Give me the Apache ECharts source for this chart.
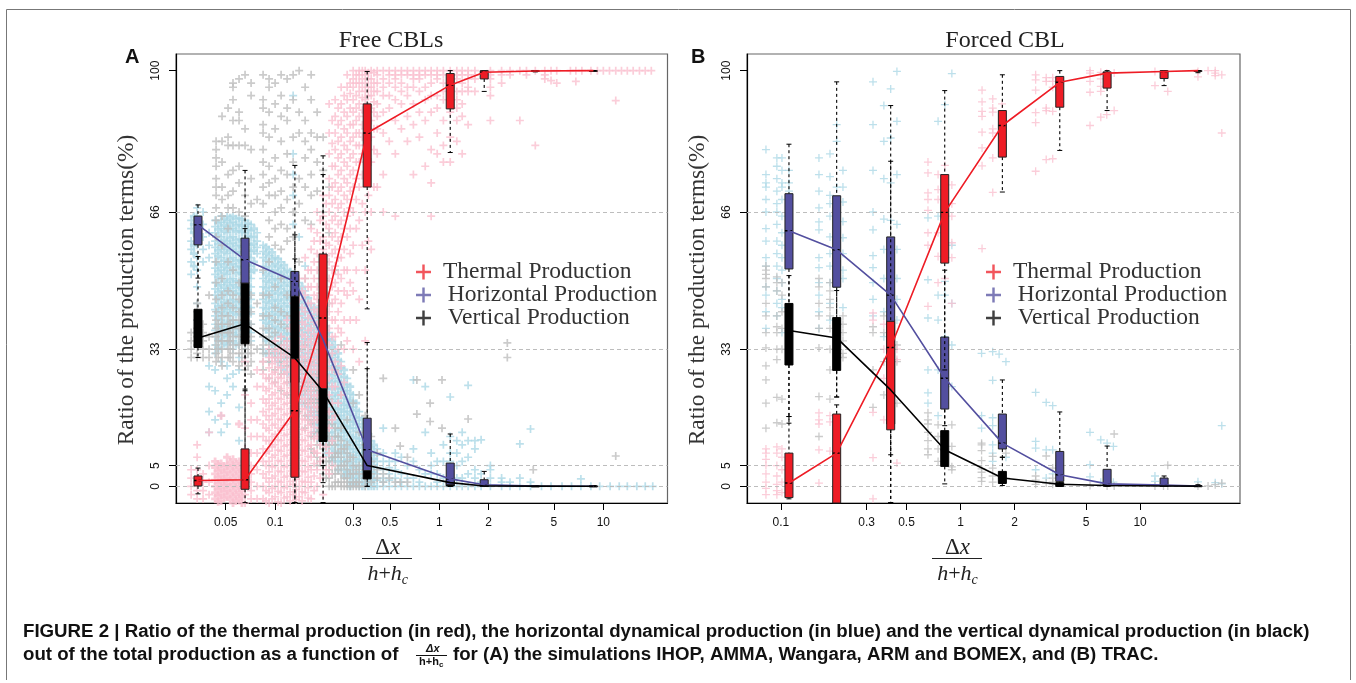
<!DOCTYPE html>
<html><head><meta charset="utf-8">
<style>html,body{margin:0;padding:0;background:#fff}#c{width:1356px;height:683px}</style>
<script src="https://cdn.jsdelivr.net/npm/echarts@6/dist/echarts.min.js"></script>
</head><body><div id="c"></div>
<script>
// ---------- axes ----------
const yTicks = [0, 5, 33, 66, 100];
const refLines = [0, 5, 33, 66];
const xTicksA = [0.05, 0.1, 0.3, 0.5, 1, 2, 5, 10];
const xTicksB = [0.1, 0.3, 0.5, 1, 2, 5, 10];
const names = ['Thermal Production', 'Horizontal Production', 'Vertical Production'];

// ---------- panel A boxes: [x, low, q1, median, q3, high] ----------
const redBoxA = [[.0339,-1.8,.1,1.4,2.5,4.4],[.0656,-3.9,-.7,1.6,9,23.4],[.132,-3.9,2.2,18.2,30.7,60.5],[.196,-3.9,23.5,40.5,55.9,79.5],[.364,42.7,72,85,92,99.8],[1.167,80.3,90.8,96.5,99.3,100],[1.88,95,98,99.6,100,100],[3.85,99.7,99.8,99.9,100,100],[8.69,99.8,99.9,100,100,100]];
const blueBoxA = [[.0339,50.1,58.1,62.9,65,67.7],[.0656,23,48.9,54.5,59.7,76],[.132,20,45.7,49.3,51.7,77.2],[.196,5,25,35.3,45,75],[.364,0,3.8,8.8,16.4,34.6],[1.167,0,.4,1.8,5.6,12.6],[1.88,0,0,.4,1.6,3.6],[3.85,0,0,.05,.1,.2],[8.69,0,0,.03,.1,.2]];
const blackBoxA = [[.0339,31,33.4,35.7,42.6,55.3],[.0656,8,34.3,39.1,49,62],[.132,-3.9,25,30.9,47,54.7],[.196,.9,10.8,22.8,25,55],[.364,0,1.8,5,7,28.3],[1.167,0,.1,.9,1.6,3],[1.88,0,0,.1,.2,.5],[3.85,0,0,.05,.1,.2],[8.69,0,0,.03,.1,.2]];

// ---------- panel B boxes ----------
const redBoxB = [[.1108,-3,-2.7,.8,8,16.8],[.2043,-4,-4,8,17.4,19.6],[.4084,-3.9,13.6,33.4,39.7,78.2],[.8166,28,53.7,65.9,75,95.2],[1.71,70.8,79.2,86.8,90.4,99],[3.57,80.8,91.2,97.2,98.6,100],[6.55,90.4,95.8,99.4,99.7,100],[13.6,96.4,98.1,99.8,100,100],[21,99.5,99.8,100,100,100]];
const blueBoxB = [[.1108,16.8,52.3,61.5,70.4,82.3],[.2043,21.5,47.9,56.9,69.9,97.3],[.4084,7.6,30,46,60,91.6],[.8166,14.6,18.6,26,35.9,52],[1.71,7,9,10.4,17.4,25.6],[3.57,0,1.2,2.8,8.4,17.9],[6.55,0,.1,.6,4.1,9.7],[13.6,0,0,.3,2,2.5],[21,0,0,.05,.1,.2]];
const blackBoxB = [[.1108,15.2,29.2,37.5,44,50.7],[.2043,21.5,27.9,35.7,40.6,47.1],[.4084,-3.9,15,23.2,30,45],[.8166,.6,4.8,8.8,13.4,30],[1.71,.2,.7,2,3.6,7],[3.57,0,0,.5,.9,2],[6.55,0,.1,.2,.4,.8],[13.6,0,0,.1,.2,.4],[21,0,0,.05,.2,.4]];

// ---------- panel A point clouds: one x per column, one list of y per column ----------
const blueAX = [.0308,.0335,.0364,.0396,.0431,.0469,.051,.0554,.0603,.0656,.0714,.0777,.0845,.0919,.1,.1088,.1184,.1288,.1401,.1524,.1658,.1804,.1963,.2135,.2323,.2527,.2749,.2991,.3254,.354,.385,.419,.456,.496,.54,.588,.64,.696,.757,.822,.893,.972,1.06,1.167,1.28,1.38,1.5,1.65,1.8,2.05,2.4,2.7,3.1,3.6,4.2,4.8,5.6,6.4,7.3,8.4,9.5,11,12.5,14,16,18,20];
const blueAY = [
[64,62,59,57,54,51],[67,65,63,60,58,55,52,48,44,40,37],[66,63,60,57,54],[61,58,55,29,24,18,13],
[64,62.5,61,59,57.5,56,54,52.5,51,49,47.5,46,44,42.5,41,39,37.5,36,34,32,28,23,16],
[65,63.5,62,60,58.5,57,55,53.5,52,50,48.5,47,45,43.5,42,40,38.5,37,35,33,30,20,17,13],
[65,64,62.5,61,59,57.5,56,54,52.5,51,49,47.5,46,44,42.5,41,39,37.5,36,34,29,26,22,15],
[65,63.5,62,60,58.5,57,55,53.5,52,50,48.5,47,45,43.5,42,40,38.5,37,35,33,27,24],
[64.5,63,61.5,59.5,58,56.5,54.5,53,51.5,49.5,48,46.5,44.5,43,41.5,39.5,38,36.5,34,31,28,19,11],
[64,62.5,61,59,57.5,56,54,52.5,51,49,47.5,46,44,42.5,41,39,36,33,30],
[63,61.5,60,58,56.5,55,53,51.5,50,48,46.5,45,43,41.5,39,37,35],
[61,59,57.5,56],
[58,56.5,55,53,51.5,50,48,46.5,45,43,41.5,40,36,33],
[57,55.5,54,52,50.5,49,47,45.5,44,42,40.5,39,37,35,33,30],
[55,53.5,52,50,48.5,47,45,43.5,42,40,38.5,37,35,33,31],
[54,52.5,51,49,47.5,46,44,42.5,41,39,37.5,36,34,32,29],
[52,50.5,49,47,45.5,44,42,40.5,39,37,35.5,34,32,30,27],
[94,80,75,70,63,51,49.5,48,46,44.5,43,41,39.5,38,36,34.5,33,31,29,27,25],
[60,49,47.5,46,44,42.5,41,39,37.5,36,34,32.5,31,29,27,25,22],
[53,47,45.5,44,42,40.5,39,37,35.5,34,32,30.5,29,27,25.5,24,22,20],
[44,42.5,41,39,37.5,36,34,32.5,31,29,27.5,26,24,22,20,18],
[42,40.5,39,37,35.5,34,32,30.5,29,27,25.5,24,22,20,18,16,14],
[40,38.5,37,35,33.5,32,30,28.5,27,25,23.5,22,20,18,16,14,12],
[37,35.5,34,32,30.5,29,27,25.5,24,22,20.5,19,17,15,13,11.5,10],
[34,32.5,31,29,27.5,26,24,22.5,21,19,17.5,16,14,12,10,8.5,7],
[30,28.5,27,25,23.5,22,20,18.5,17,15,13.5,12,10,8.5,7,6,5],
[26,24.5,23,21,19.5,18,16,14.5,13,11,9.5,8,6.5,5,3.5,3],
[22,20.5,19,17,15.5,14,12,10.5,9,7.5,6,4.5,3,2,1],
[18,16.5,15,13,11.5,10,8,6.5,5,3.5,2,1,0],
[14,12.5,11,9.5,8,6.5,5,3.5,2,1,0],
[11,9.5,8,6.5,5,3.5,2,1,0],[9,7.5,6,4.5,3,1.5,0],[14,8,6,4,2,1,0],[6,4.5,3,1.5,0],[8,6,4,2,0],[7,3,1,0],[5,2,0],[25.6,9,6,2,0],[4,1,0],[24,13,3,0],[8,5,3,0],[6,3,1,0],[10,6,2,0],[21.5,12,8,6,3,0],[11,8,5,2,0],[13,10,6,2,0],[24.3,11,7,3,0],[11,9,4,2,0],[11.2,3,1,0],[5,4,2,0],[2,1,0],[1,0],[10.2,2,0],[13.8,1,0],[0],[0],[0],[0],[1.8,0],[0],[0],[0],[0],[0],[0],[0],[0],[0],[0]];
// denser reading of the solid part of the blue mass
const blueCoreX = [.032,.045,.049,.0532,.0578,.0628,.0684,.0744,.0881,.0959,.1043,.1135,.1235,.1343,.1461,.159,.1729,.1881,.2047,.2227,.2423,.2636,.2867,.312,.34,.37,.40];
const blueCoreY = [
[65,63,61,58,56,53],
[63.3,61.8,60.3,58.3,56.8,55.3,53.3,51.8,50.3,48.3,46.8,45.3,43.3,41.8,40.3,38.3,36.8,35.3,33.3],
[64.3,62.8,61.3,59.3,57.8,56.3,54.3,52.8,51.3,49.3,47.8,46.3,44.3,42.8,41.3,39.3,37.8,36.3,34.3],
[64.6,63.3,61.8,59.8,58.3,56.8,54.8,53.3,51.8,49.8,48.3,46.8,44.8,43.3,41.8,39.8,38.3,36.8,34.8],
[64.4,62.8,61.3,59.3,57.8,56.3,54.3,52.8,51.3,49.3,47.8,46.3,44.3,42.8,41.3,39.3,37.8,36.3,34.3],
[64.2,62.7,61.2,59.2,57.7,56.2,54.2,52.7,51.2,49.2,47.7,46.2,44.2,42.7,41.2,39.2,37.7,35.2],
[63.2,61.7,60.2,58.2,56.7,55.2,53.2,51.7,50.2,48.2,46.7,45.2,43.2,41.7,39.2,37.2],
[62,60,58.3,56.7,54,52],
[57.5,56,54.3,52.7,51,49.3,47.7,46,44.3,42.7,41,39.3,37.7,35,32],
[56.3,54.7,53,51.3,49.7,48,46.3,44.7,43,41.3,39.7,38,36,34,32],
[54.7,53,51.4,49.7,48,46.4,44.7,43,41.4,39.7,38,36.4,34,32,30],
[53.2,51.6,50,48.3,46.6,45,43.3,41.6,40,38.3,36.6,35,33,31,28],
[51.6,50,48.3,46.6,45,43.3,41.6,40,38.3,36.6,35,33,31,29,27,25],
[50,48.3,46.6,45,43.3,41.6,40,38.3,36.6,35,33.3,31.6,30,28,26,24,22],
[48,46.4,44.7,43,41.4,39.7,38,36.4,34.7,33,31.4,29.7,28,26,24,22,20],
[45.3,43.6,42,40.3,38.6,37,35.3,33.6,32,30.3,28.6,27,25,23,21,19,17],
[43,41.3,39.6,38,36.3,34.6,33,31.3,29.6,28,26.3,24.6,23,21,19,17,15,13],
[41,39.3,37.6,36,34.3,32.6,31,29.3,27.6,26,24.3,22.6,21,19,17,15,13,11],
[38.5,36.8,35.2,33.5,31.8,30.2,28.5,26.8,25.2,23.5,21.8,20.2,18,16,14,12,10,8],
[35,33.4,31.7,30,28.4,26.7,25,23.4,21.7,20,18.4,16.7,15,13,11,9,7,6],
[32,30.3,28.6,27,25.3,23.6,22,20.3,18.6,17,15.3,13.6,12,10,8,6,4],
[28,26.3,24.6,23,21.3,19.6,18,16.3,14.6,13,11.3,9.6,8,6,4,2.5],
[24,22.3,20.6,19,17.3,15.6,14,12.3,10.6,9,7.3,5.6,4,2.5,1,0],
[20,18.3,16.6,15,13.3,11.6,10,8.3,6.6,5,3.3,2,.5],
[16,14.3,12.6,11,9.3,7.6,6,4.3,2.6,1,0],
[12.5,10.8,9,7.3,5.6,4,2.4,1,0],
[10,8.3,6.6,5,3.3,1.6,0]];

const greyAX = [.0308,.0335,.0364,.0396,.0437,.0475,.0517,.0554,.0603,.0656,.0714,.0777,.0845,.0919,.1,.1088,.1184,.1288,.1401,.1524,.1658,.1804,.1963,.2135,.2323,.2527,.2749,.2991,.3254,.354,.385,.419,.456,.496,.54,.578,.64,.731,.88,1.04,1.5,2.6,3.74,11.9];
const greyAY = [
[37,35,33,31],[44,42,40,38,36,34,32,31],[39,37,35,33,31],[46,36,33,31],
[83,81,79,77,74,72,70,67,64,60,54,49,45,42,40,38,36,34,32,30],
[89,83,78,72,69,65,58,50,46,43,41,39,37,35,33,31,29],
[91,84,82,75,70,67,62,54,47,44,41,39,37,35,33,31],
[97,96,93,88,82,76,71,67,52,46,43,40,38,36,34,32,30],
[98,90,88,82,77,73,66,49,45,42,40,38,36,34,32,29],
[99,86,82,70,65,47,43,40,37,35,33,31,28],
[97,94,81,74,68,46,42,39,36,34,32,30,27],
[69,44,33],
[99,93,91,87,85,81,78,75,72,68,52,46,41,38,36,34,32,30,28],
[98,96,90,84,77,73,70,64,60,54,46,41,38,36,34,32,30,26],
[97,92,86,79,74,70,66,62,58,48,43,40,37,35,33,31,28,25],
[99,94,89,83,76,71,67,63,57,50,42,39,36,34,32,30,27,23],
[98,91,88,80,75,69,62,59,46,41,38,35,33,31,29,25,22],
[99,93,84,78,72,66,60,50,41,36,33,30,28,26,23,20],
[100,90,85,74,68,54,38,33,30,28,26,24,21,18],
[96,88,83,79,72,64,50,34,30,27,25,23,20,17,14],
[99,93,85,81,75,70,63,30,27,25,23,21,18,15,12,9],
[90,84,78,71,27,25,23,21,19,16,13,10,7,5],
[84,76,66,25,22,20,18,16,14,11,9,7,5,3],
[72,61,44,21,18,16,14,12,10,8,6,4,2,0],
[52,28,17,14,12,10,8,7,5,3,1,0],
[34,22,14,11,9,7,5,3,1,0],
[16,10,8,6,4,2,1,0],
[28,20,7,5,3,1,0],
[22,13,5,3,1,0],
[17,10,4,2,0],[12,6,3,1],[8,4,2],[26,3,1],[2],[14,1],[9.7,1],[7,1],[25.6,17.4],[20,15.6],[25.6,14],[16.2],[31,34.5],[4],[7.3]];
const greyCoreX = [.045,.0532,.0628,.0684,.159,.1729,.1881,.2047,.2227,.2423,.2636,.2867,.312];
const greyCoreY = [[39,37,35,33,31],[39,37,35,33,31],[40,38,36,34,32,30],[38,36,34,32,29],[28,24,20,16],[24,20,16,12,8],[22,18,14,10,6],[18,14,10,6,2],[15,11,7,3,0],[12,8,4,1],[9,5,2,0],[7,3,0],[4,1,0]];

const pinkAX = [.0308,.0335,.0364,.0396,.0656,.0714,.0777,.0845,.0919,.1,.1088,.1184,.1288,.1401,.1524,.1658,.1804,.1963,.2135,.2323,.2527,.2749,.2991,.3254,.354,.385,.419,.456,.496,.54,.588,.64,.696,.757,.822,.893,.972,1.06,1.167,1.28,1.38,1.5,1.65,2.05,2.4,2.7,3.1,3.4,3.85,4.4,4.8,5.2,6.3,6.8,7.4,8.4,9.2,10,10.9,11.9,12.9,14,15.2,16.6,18,19.6];
const pinkAY = [
[4,2,0,-2],[10,7,4,2,1,-1,-3],[3,1,-1,-3],[13,5,1,-2],
[30,22,14,9,6,4,2,0,-2,-4],[20,16,12,8,5,3,1,-1,-3],[28,24,16,12,8,4,0,-3],
[30,27,24,21,18,15,12,9,6,3,0,-3],[33,31,28.5,26,23.5,21,18.5,16,13.5,11,8.5,6,3.5,1,-1.5,-4],[35,32.5,30,27.5,25,22.5,20,17.5,15,12.5,10,7.5,5,2.5,0,-2.5],[36,33,31,28.5,26,23.5,21,18.5,16,13.5,11,8.5,6,3.5,1,-1.5,-4],[40,35,32.5,30,27.5,25,22.5,20,17.5,15,12.5,10,7.5,5,2.5,0,-2.5],
[44,39,36,33,30.5,28,25.5,23,20.5,18,15.5,13,10.5,8,5.5,3,.5,-2],[50,45,41,38,35,32.5,30,27.5,25,22.5,20,17.5,15,12.5,10,7.5,5,2.5,0,-2.5],[55,50,46,42,39,36,33.5,31,28.5,26,23.5,21,18.5,16,13.5,11,8.5,6,3.5,1,-1.5],
[62,57,52,48,44,41,38,35.5,33,30.5,28,25.5,23,20.5,18,15.5,13,10,7,4,1,-3],[66,61,56,52,48,45,42,39,36,33,30.5,28,25,22,19,16,12,8,4,0],[70,65,60,57,54,51,48,45,42,39,36,33,30,27,24,20,16,12,7,-2],
[92,85,80,74,70,66,62,58,54,50,46,42,38,34,30,26,22,18,14,8,3],[93,89,85,81,77,73,69,65,61,57,53,49,45,40,36,30,24,17],[96,92,88,84,80,76,72,68,64,60,55,50,44,37,29,22],[99,96,93,89,85,81,77,73,69,65,60,52,46,35],[100,98,96,93,90,87,84,80,76,72,66,58,47,33],[100,99,97,95,92,89,85,82,78,72,64,45,30],[100,99,97,95,93,90,86,82,74,66,52,35],[100,98,96,94,91,88,84,78,66,57],[100,99,97,95,92,89,86,80,72],[100,98,96,94,90,85,75,66],[100,99,97,94,91,83],[100,99,98,96,93,88,80,65],[100,99,97,95,92,86],[100,99,96,94,89,83],[100,99,98,96,92,87,75],[100,99,98,95,90,84],[100,99,96,93,88,77],[100,99,97,94,90,81,73,65],[100,99,98,94,91,85,80],[100,99,97,95,93,88,82,78],[100,99,98,96,93,90,84,78],[100,99,98,95,93,91,88,83],[100,99,97,95,92,89,80],[100,99,98,96,95,87],[100,99,98,95],[100,99,98,96,94,88],[100,99,97],[100,99],[100,88],[100,99],[100,82],[100,99,98],[100,97.6],[100,97],[100],[100,97.4],[100],[100],[100],[100],[100],[100,92.8],[100],[100],[100],[100],[100],[100]];
// denser reading of the middle of the pink band
const pinkCoreX = [.0881,.0959,.1043,.1135,.1235,.1343,.1461,.159,.1729,.1881,.2047,.2227,.2423,.2636,.2867,.312,.34,.37,.40];
const pinkCoreY = [
[26,23,20,17,14,11,8,5,2,-1,-3.5],[31,29.5,27,24.7,22,19.5,17,14.7,12,9.5,7,4.7,2,-.5,-3],[33,31,28.7,26.2,24,21.2,18.7,16.2,14,11.2,8.7,6.2,3.7,1.2,-1.2,-3.7],[34,31.7,29.5,27,24.7,22.2,19.7,17.2,14.7,12.2,9.7,7.2,4.7,2.2,-.3,-2.8],[38,33.7,31.2,28.7,26.2,23.7,21.2,18.7,16.2,13.7,11.2,8.7,6.2,3.7,1.2,-1.3,-3.5],
[42,37.5,34.5,31.7,29.2,26.7,24.2,21.7,19.2,16.7,14.2,11.7,9.2,6.7,4.2,1.7,-.8,-3.2],[47,43,39.5,36.5,33.7,31.2,28.7,26.2,23.7,21.2,18.7,16.2,13.7,11.2,8.7,6.2,3.7,1.2,-1.3,-3.5],[52,48,44,40.5,37.5,34.7,32.2,29.7,27.2,24.7,22.2,19.7,17.2,14.7,12.2,9.7,7.2,4.7,2.2,-.3,-2.8],
[59,54,50,46,42.5,39.5,36.7,34.2,31.7,29.2,26.7,24.2,21.7,19.2,16.7,14.2,11.5,8.5,5.5,2.5,-1],[64,59,54,50,46.5,43.5,40.5,37.5,34.5,31.7,29.2,26.5,23.5,20.5,17.5,14,10,6,2],[68,63,58.5,55.5,52.5,49.5,46.5,43.5,40.5,37.5,34.5,31.5,28.5,25.5,22,18,14,9.5,4],
[88,82.5,77,72,68,64,60,56,52,48,44,40,36,32,28,24,20,16,11,5],[91,87,83,79,75,71,67,63,59,55,51,47,42,38,33,27,20],[94,90,86,82,78,74,70,66,62,57,52,47,40,33,25],
[97,94.5,91,87,83,79,75,71,67,62,56,49,40],[99,97,94,91,88,85,82,78,74,69,62,52,40],[100,98,96,93.5,90.5,87,84,80,75,68,58],[99.5,98,96,94,91.5,88,84,78,70,59],[99.5,97,95,92.5,90,86,81,72]];
// the solid pink floor below 5 % at the small grid sizes
const pinkFloorX = [.0431,.045,.0469,.049,.051,.0532,.0554,.0578,.0603,.0628];
const pinkFloorY = [[6,4.5,3,1.5,0,-1.5,-3],[5.3,3.8,2.3,.8,-.7,-2.2,-3.7],[17,5.5,4,2.5,1,-.5,-2,-3.5],[4.8,3.3,1.8,.3,-1.2,-2.7],[7,5,3.5,2,.5,-1,-2.5],[5.8,4.3,2.8,1.3,-.2,-1.7,-3.2],[6.5,5,3.5,2,.5,-1,-2.5,-4],[5.5,4,2.5,1,-.5,-2,-3.5],[15,6,4.5,3,1.5,0,-1.5,-3],[5,3.5,2,.5,-1,-2.5,-4]];

// ---------- panel B point clouds ----------
const blueBX = [.0825,.0949,.1013,.1108,.1628,.1875,.2043,.2214,.3255,.3742,.4084,.4424,.6586,.7498,.8181,.8946,1.31,1.51,1.64,1.79,2.62,3,3.26,5.26,6.04,6.55,7.1,12.1,21,26.2,28.5];
const blueBY = [
[81,75,73,72,69,66,62,59,55,53,48,46,42,38],[79,77,74,71,68,66,63,59,56,53,50,47,44,41],[79,76,73,72,69,65,61,58,55,52,49,45,43,37],[76,73,71,68,64,60,57],
[79,75,71,67,63.6,61.7,55,52.6,49,46,42,38],[80,74.5,70,68,65,60,56,53,49,44,40],[87,83,72,66,60,54,48],[76,72,68.4,63.7,59.8,56,52,50,43],
[97.3,87,76,66,61.7,55.5,52.6,49,45,41],[91.6,83,74,64.3,57,50,42,36],[95.6,83.8,73,64,56,50,44,38],[99.8,87.8,75,63,57,50,45,40],
[64.6,49.7,40.5,28,22.5,20],[87.8,65,46,40,28,17],[91.8,65,49.3,46,36,20],[99.3,58,44,34,24],
[32,17,14],[32.4,25.5,16.5,14.6,10,8,6],[31.8,12],[30,7],[22.6,10.8,9.2,4],[20.2,8.8,2],[19.4,8.8,3],[13,5.2,2.3],[11.2,1],[10.4,1],[9.6,1],[2.5,1.2],[1.1],[.9],[14.6,.6]];
const greyBX = [.0825,.0949,.1013,.1628,.1875,.2214,.3255,.3742,.4424,.6586,.7498,.8946,1.31,1.51,1.79,2.62,3,3.26,5.26,6.55,7.17,12.1,13.5,14.26,21,23.9,26.2,28.5];
const greyBY = [
[53,52,51,50,48,44,41,37,33.3,29,25.6,20,14],[50.4,49,47,41,38.4,37,33,30.5,21.4,15.3],[49,46,42,38,33,21,15],
[50,48,44,41,38,33.3,21.6,12],[49,47,45,43,41,38,33,28,21],[41,39,37,35,32,31],
[38.4,37,28,19],[41,37,30,22],[34,30,20],
[17.7,16,15,13,11,9,7.6],[14.8,12,9,6],[14.8,9.6,4.7,4],
[10.4,10,8.6,6.2,4.2,3.4,2.1,1.2],[7.2,4.4,2.5,1],[8,2],[2.5,1.5,.5],[7.3,.8],[4.4,2,1,.5],[.2],[.1],[12.6,.1],[.1],[.1],[5.1,.1],[.1],[.1],[.4],[.8]];
const pinkBX = [.0825,.0949,.1013,.1628,.1875,.3255,.3742,.4424,.6586,.7498,.8181,.8946,1.318,1.512,1.703,2.62,3,3.26,5.26,6.04,6.52,7.17,12.1,14.26,21,23.9,26.2,28.5];
const pinkBY = [
[9,8,6.5,5,3,1,-.5,-2],[9.5,8,5,2.5,.5,-1,-2],[9,7,4,1,-1.5],
[17.7,16,15,8.8,.8],[17,15.5,8.5],[41.7,40,17.8,6.9,-3],[39,33,26,16],[33,30.5,5.6],
[78,75.4,70.6,69,66.4,61,58,43.3],[75,71.4,69,61,55.3,49],[77.2,50],[72.5,68,65,58.6,55,44],
[95.3,92.5,90.2,89,85.2,81.4,77.1,57.2],[93.2,91,90,86,85,79,70.7],[92,84],
[99,97.8,95.3,89.9,87.5,75.8],[98.3,97.4,91,90.4,78.6],[98.3,97.4,96,90.2,78.8],
[100,99.4,97.4,94.8,86.8],[99.6,98,96.2,95,88.8],[99.4,98,89.4],[99.4,90.4],[99.8,96.4],[95],[99.8,98.5],[100],[100,99.4,98.8],[99,85]];

// ---------- helpers: build library data from the arrays above ----------
const colsToPts = (xs, ys) => xs.flatMap((x, i) => ys[i].map(y => [x, y]));
const medians = rows => rows.map(r => [r[0], r[3]]);

const PLUS_SOLID = 'path://M2.6 0H5.4V2.6H8V5.4H5.4V8H2.6V5.4H0V2.6H2.6Z';
const PLUS_A = 'path://M3.15 0H4.85V3.15H8V4.85H4.85V8H3.15V4.85H0V3.15H3.15Z';
const PLUS_B = 'path://M3.35 0H4.65V3.35H8V4.65H4.65V8H3.35V4.65H0V3.35H3.35Z';
const RED = '#ee1c25', BLUE = '#534f9f', BLACK = '#000000';
const PINK = '#fac0cf', LBLUE = '#add8e6', GREY = '#bebebe';
const SERIF = '"Liberation Serif","DejaVu Serif",serif', SANS = '"Liberation Sans",Arial,sans-serif';

function boxRender(fill, edge) {
  return function (params, api) {
    const x = api.value(0);
    const at = k => api.coord([x, api.value(k)]);
    const lo = at(1), q1 = at(2), md = at(3), q3 = at(4), hi = at(5);
    const cx = lo[0], capW = 2.5, half = 4;
    const dash = { stroke: '#000', lineWidth: 1.1, lineDash: [3, 3], fill: null };
    const solid = { stroke: '#000', lineWidth: 1, fill: null };
    return { type: 'group', children: [
      { type: 'line', shape: { x1: cx, y1: hi[1], x2: cx, y2: q3[1] }, style: dash },
      { type: 'line', shape: { x1: cx, y1: q1[1], x2: cx, y2: lo[1] }, style: dash },
      { type: 'line', shape: { x1: cx - capW, y1: hi[1], x2: cx + capW, y2: hi[1] }, style: solid },
      { type: 'line', shape: { x1: cx - capW, y1: lo[1], x2: cx + capW, y2: lo[1] }, style: solid },
      { type: 'rect', shape: { x: cx - half, y: q3[1], width: half * 2, height: Math.max(q1[1] - q3[1], .8) }, style: { fill: fill, stroke: edge, lineWidth: 1 } },
      { type: 'line', shape: { x1: cx - half, y1: md[1], x2: cx + half, y2: md[1] }, style: { stroke: '#000', lineWidth: 1.4, lineDash: [2.5, 2], fill: null } }
    ] };
  };
}
const boxSeries = (name, rows, fill, edge, g) => ({
  type: 'custom', name: name + ' box', xAxisIndex: g, yAxisIndex: g, z: 5, silent: true,
  data: rows, encode: { x: 0, y: [1, 2, 3, 4, 5] }, renderItem: boxRender(fill, edge)
});
const cloud = (name, xs, ys, color, g, symbol, extra) => Object.assign({
  type: 'scatter', name: name + ' points', xAxisIndex: g, yAxisIndex: g, z: 2, silent: true,
  data: colsToPts(xs, ys), symbol: symbol, symbolSize: 8, itemStyle: { color: color }, large: false
}, extra || {});
const refMark = { silent: true, symbol: 'none', z: 3, animation: false, label: { show: false },
  lineStyle: { type: [4, 3], color: '#bdbdbd', width: 1 }, data: refLines.map(v => ({ yAxis: v })) };
const medLine = (name, rows, color, g) => ({
  type: 'line', name: name, xAxisIndex: g, yAxisIndex: g, z: 6, silent: true, data: medians(rows),
  showSymbol: false, lineStyle: { color: color, width: 1.6 }, itemStyle: { color: color }
});
const xAxisOf = (g, min, max, ticks, shift) => ({
  type: 'log', logBase: 10, gridIndex: g, min: min, max: max,
  axisLine: { show: true, onZero: false, lineStyle: { color: '#000', width: 1.2 } },
  axisTick: { show: true, length: 7, customValues: ticks, lineStyle: { color: '#000' } },
  axisLabel: { show: true, customValues: ticks, margin: 14, fontFamily: SANS, fontSize: 12, color: '#111', formatter: v => String(v), showMinLabel: true, showMaxLabel: true, hideOverlap: false },
  minorTick: { show: false }, splitLine: { show: false }, minorSplitLine: { show: false },
  name: '{n|\u0394}{ni|x}\n{i|h}{r|+}{i|h}{s|c}', nameLocation: 'middle', nameGap: 32,
  nameTextStyle: { padding: [0, shift, 0, 0], rich: {
    n: { fontFamily: SERIF, fontSize: 23, color: '#222', lineHeight: 26 },
    ni: { fontFamily: SERIF, fontStyle: 'italic', fontSize: 23, color: '#222', lineHeight: 26 },
    i: { fontFamily: SERIF, fontStyle: 'italic', fontSize: 22, color: '#222', lineHeight: 26 },
    r: { fontFamily: SERIF, fontSize: 22, color: '#222', lineHeight: 26 },
    s: { fontFamily: SERIF, fontStyle: 'italic', fontSize: 14, color: '#222', verticalAlign: 'bottom', lineHeight: 18 } } }
});
const yAxisOf = g => ({
  type: 'value', gridIndex: g, min: -4, max: 104,
  axisLine: { show: true, onZero: false, lineStyle: { color: '#000', width: 1.2 } },
  axisTick: { show: true, length: 7, customValues: yTicks, lineStyle: { color: '#000' } },
  axisLabel: { show: true, customValues: yTicks, rotate: 90, margin: 14, fontFamily: SANS, fontSize: 12, color: '#111' },
  splitLine: { show: false },
  name: 'Ratio of the production terms(%)', nameLocation: 'middle', nameGap: 38,
  nameTextStyle: { fontFamily: SERIF, fontSize: 23.4, color: '#333', padding: [0, 23, 0, 0] }
});
const legendAt = (left, top) => ({
  show: true, orient: 'vertical', left: left, top: top, padding: 0, itemGap: -1, itemWidth: 15, itemHeight: 15,
  icon: PLUS_B, data: names, selectedMode: false, itemStyle: { opacity: .75 },
  formatter: n => n === names[0] ? n : '\u2009' + n,
  textStyle: { fontFamily: SERIF, fontSize: 23.5, color: '#333', padding: [0, 0, 0, 7], lineHeight: 22 }
});
const CAP = 'bold 17.5px ' + SANS, CAPX = 1.067;
const txt = (x, y, s, font, sx) => ({ type: 'text', x: x, y: y, scaleX: sx || 1, silent: true, style: { text: s, font: font, fill: '#111', textVerticalAlign: 'middle' } });

const option = {
  animation: false, backgroundColor: '#fff',
  title: [
    { text: 'Free CBLs', left: 386, top: 24, textAlign: 'center', textStyle: { fontFamily: SERIF, fontSize: 24, fontWeight: 'normal', color: '#222' } },
    { text: 'Forced CBL', left: 1000, top: 24, textAlign: 'center', textStyle: { fontFamily: SERIF, fontSize: 24, fontWeight: 'normal', color: '#222' } }
  ],
  legend: [legendAt(416, 260), legendAt(986, 260)],
  grid: [
    { left: 176, top: 54, width: 491.5, height: 449, show: true, borderColor: '#666', borderWidth: 1.2, backgroundColor: 'transparent' },
    { left: 747, top: 54, width: 493, height: 449, show: true, borderColor: '#666', borderWidth: 1.2, backgroundColor: 'transparent' }
  ],
  xAxis: [xAxisOf(0, 0.0249, 24.6, xTicksA, 68), xAxisOf(1, 0.0647, 36, xTicksB, 72)],
  yAxis: [yAxisOf(0), yAxisOf(1)],
  series: [
    cloud('Horizontal A core', blueCoreX, blueCoreY, LBLUE, 0, PLUS_SOLID),
    cloud('Horizontal A', blueAX, blueAY, LBLUE, 0, PLUS_A),
    cloud('Vertical A', greyAX.concat(greyCoreX), greyAY.concat(greyCoreY), GREY, 0, PLUS_A),
    cloud('Thermal A floor', pinkFloorX, pinkFloorY, PINK, 0, PLUS_SOLID),
    cloud('Thermal A', pinkAX.concat(pinkCoreX), pinkAY.concat(pinkCoreY), PINK, 0, PLUS_A, { markLine: refMark }),
    boxSeries('Vertical A', blackBoxA, BLACK, '#000', 0),
    boxSeries('Horizontal A', blueBoxA, BLUE, '#222', 0),
    boxSeries('Thermal A', redBoxA, RED, '#222', 0),
    medLine(names[0], redBoxA, RED, 0),
    medLine(names[1], blueBoxA, BLUE, 0),
    medLine(names[2], blackBoxA, BLACK, 0),
    cloud('Horizontal B', blueBX, blueBY, LBLUE, 1, PLUS_B),
    cloud('Vertical B', greyBX, greyBY, GREY, 1, PLUS_B),
    cloud('Thermal B', pinkBX, pinkBY, PINK, 1, PLUS_B, { markLine: refMark }),
    boxSeries('Vertical B', blackBoxB, BLACK, '#000', 1),
    boxSeries('Horizontal B', blueBoxB, BLUE, '#222', 1),
    boxSeries('Thermal B', redBoxB, RED, '#222', 1),
    medLine(names[0], redBoxB, RED, 1),
    medLine(names[1], blueBoxB, BLUE, 1),
    medLine(names[2], blackBoxB, BLACK, 1)
  ],
  graphic: [
    { type: 'polyline', silent: true, shape: { points: [[6.5, 680], [6.5, 9.5], [1350.5, 9.5], [1350.5, 680]] }, style: { stroke: '#777', lineWidth: 1, fill: null } },
    txt(125, 57, 'A', 'bold 20px ' + SANS),
    txt(691, 57, 'B', 'bold 20px ' + SANS),
    { type: 'line', silent: true, shape: { x1: 362, y1: 558.5, x2: 412, y2: 558.5 }, style: { stroke: '#222', lineWidth: 1 } },
    { type: 'line', silent: true, shape: { x1: 932, y1: 558.5, x2: 982, y2: 558.5 }, style: { stroke: '#222', lineWidth: 1 } },
    txt(23, 632, 'FIGURE 2 | Ratio of the thermal production (in red), the horizontal dynamical production (in blue) and the vertical dynamical production (in black)', CAP, CAPX),
    txt(23, 655, 'out of the total production as a function of', CAP, CAPX),
    { type: 'text', x: 426, y: 649, silent: true, style: { text: '\u0394x', font: 'bold italic 11px ' + SANS, fill: '#111', textVerticalAlign: 'middle' } },
    { type: 'line', silent: true, shape: { x1: 416, y1: 655.5, x2: 447, y2: 655.5 }, style: { stroke: '#111', lineWidth: 1 } },
    { type: 'text', x: 419, y: 662, silent: true, style: { text: 'h+h', font: 'bold 11px ' + SANS, fill: '#111', textVerticalAlign: 'middle' } },
    { type: 'text', x: 439, y: 665, silent: true, style: { text: 'c', font: 'bold 8px ' + SANS, fill: '#111', textVerticalAlign: 'middle' } },
    txt(453, 655, 'for (A) the simulations IHOP, AMMA, Wangara, ARM and BOMEX, and (B) TRAC.', CAP, CAPX)
  ]
};
const chart = echarts.init(document.getElementById('c'), null, { renderer: 'canvas' });
chart.setOption(option);
</script></body></html>
